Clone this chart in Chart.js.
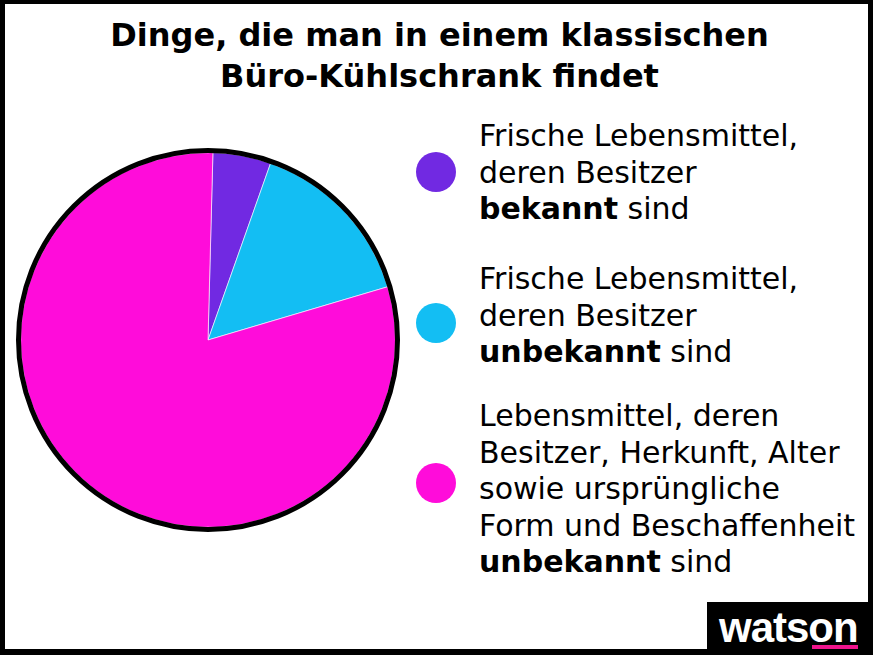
<!DOCTYPE html>
<html lang="de">
<head>
<meta charset="utf-8">
<script src="https://cdn.jsdelivr.net/npm/chart.js@4.4.0/dist/chart.umd.min.js"></script>
<style>
    html, body { margin: 0; padding: 0; background: #fff; }
    #frame {
        position: relative;
        width: 873px;
        height: 655px;
        box-sizing: border-box;
        border-style: solid;
        border-color: #000;
        border-width: 4px 5px 6px 5px;
        overflow: hidden;
        font-family: "DejaVu Sans", Verdana, sans-serif;
    }
    #title {
        position: absolute;
        left: 0; right: 0; top: 11px;
        padding-left: 6px;
        text-align: center;
        font-weight: bold;
        font-size: 32px;
        line-height: 41px;
        color: #000;
    }
    #chartBox {
        position: absolute;
        left: 3px; top: 136px;
        width: 400px; height: 400px;
    }
    .legendItem {
        position: absolute;
        left: 474px;
        font-size: 30px;
        line-height: 36.5px;
        color: #000;
        white-space: nowrap;
    }
    .legendItem .dot {
        position: absolute;
        left: -63px;
        width: 40px; height: 40px;
        border-radius: 50%;
    }
    #logo {
        position: absolute;
        left: 702px; top: 598px;
        width: 170px; height: 60px;
        background: #000;
    }
    #logo span {
        position: absolute;
        left: 12px; top: 2px;
        color: #fff;
        font-family: "Liberation Sans", Arial, sans-serif;
        font-weight: bold;
        font-size: 42px;
        letter-spacing: -1px;
    }
    #logo i {
        position: absolute;
        left: 105px; top: 43px;
        width: 46px; height: 4px;
        background: #f0148c;
    }
</style>
</head>
<body>
<div id="frame">
    <div id="title">Dinge, die man in einem klassischen<br>Büro-Kühlschrank findet</div>
    <div id="chartBox"><canvas id="myChart"></canvas></div>
    <div id="legend"></div>
    <div id="logo"><span>watson</span><i></i></div>
</div>
<script>
// dati del grafico
const labels = [
    'Frische Lebensmittel, deren Besitzer bekannt sind',
    'Frische Lebensmittel, deren Besitzer unbekannt sind',
    'Lebensmittel, deren Besitzer, Herkunft, Alter sowie ursprüngliche Form und Beschaffenheit unbekannt sind'
];
const values = [5, 15, 80];
const colors = ['#7129e2', '#13bef3', '#ff0cda'];

// testo della legenda (righe, la parte in grassetto tra **)
const legendLines = [
    ['Frische Lebensmittel,', 'deren Besitzer', '**bekannt** sind'],
    ['Frische Lebensmittel,', 'deren Besitzer', '**unbekannt** sind'],
    ['Lebensmittel, deren', 'Besitzer, Herkunft, Alter', 'sowie ursprüngliche', 'Form und Beschaffenheit', '**unbekannt** sind']
];

// legenda in HTML (il grassetto misto non si fa con la legenda di Chart.js)
const legendTops = [114, 257, 394];
const dotTops = [34, 42, 65];
const legend = document.getElementById('legend');
legendLines.forEach((lines, i) => {
    const item = document.createElement('div');
    item.className = 'legendItem';
    item.style.top = legendTops[i] + 'px';
    const dot = document.createElement('div');
    dot.className = 'dot';
    dot.style.background = colors[i];
    dot.style.top = dotTops[i] + 'px';
    item.appendChild(dot);
    lines.forEach((line, j) => {
        const parts = line.split('**');
        parts.forEach((p, k) => {
            if (k % 2 == 1) {
                const b = document.createElement('b');
                b.textContent = p;
                item.appendChild(b);
            } else {
                item.appendChild(document.createTextNode(p));
            }
        });
        if (j < lines.length - 1) item.appendChild(document.createElement('br'));
    });
    legend.appendChild(item);
});

// bordo nero attorno alla torta
const outerRing = {
    id: 'outerRing',
    afterDatasetsDraw(chart) {
        const arc = chart.getDatasetMeta(0).data[0];
        const ctx = chart.ctx;
        ctx.save();
        ctx.beginPath();
        ctx.arc(arc.x, arc.y, arc.outerRadius + 2, 0, Math.PI * 2);
        ctx.lineWidth = 5;
        ctx.strokeStyle = '#000';
        ctx.stroke();
        ctx.restore();
    }
};

const ctx = document.getElementById('myChart').getContext('2d');
const myChart = new Chart(ctx, {
    type: 'pie',
    data: {
        labels: labels,
        datasets: [{
            data: values,
            backgroundColor: colors,
            borderColor: 'rgba(255, 255, 255, 0.6)',
            borderWidth: 1,
        }]
    },
    options: {
        responsive: true,
        maintainAspectRatio: false,
        animation: false,
        rotation: 1.5,
        layout: { padding: 12 },
        plugins: {
            legend: { display: false },
            tooltip: { enabled: false },
        },
    },
    plugins: [outerRing]
});
</script>
</body>
</html>
